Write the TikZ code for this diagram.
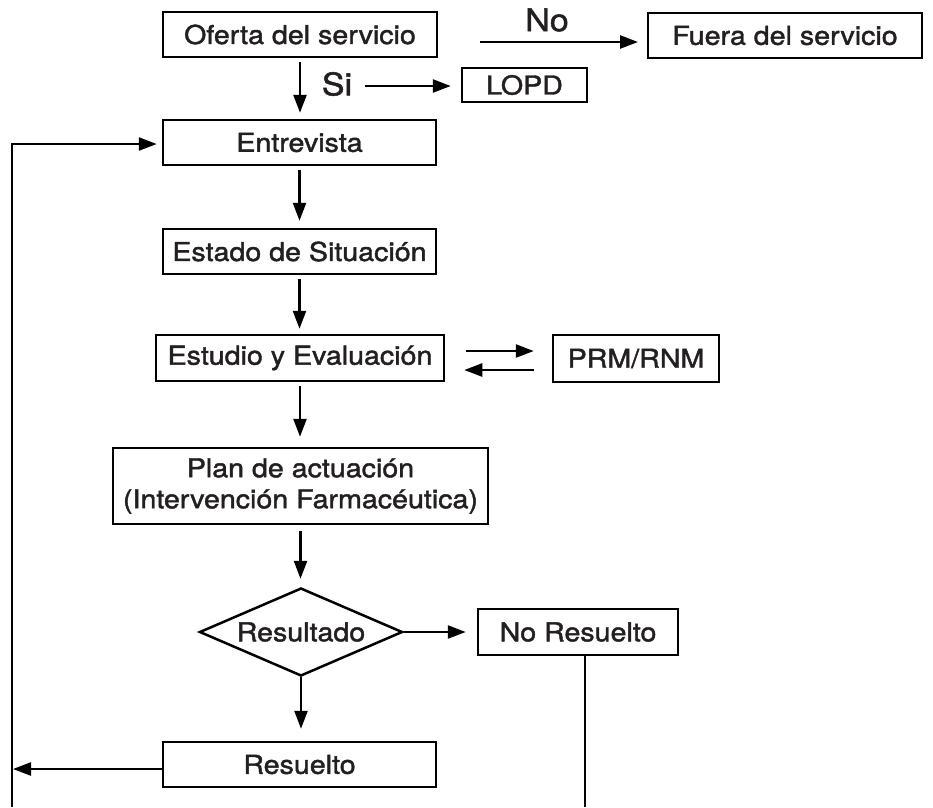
\documentclass[tikz,border=0pt]{standalone}
\usepackage{fontspec}
\setmainfont[FakeStretch=1.1,FakeBold=1.6]{TeX Gyre Heros}
\usetikzlibrary{arrows.meta,shapes.geometric}
\definecolor{ink}{HTML}{231F20}
\tikzset{
  lw/.style={line width=2.5pt, draw=black},
  box/.style={lw, rectangle, inner sep=0pt, text=ink, font=\fontsize{26}{31}\selectfont, align=center},
  dia/.style={lw, diamond, inner sep=0pt, text=ink, font=\fontsize{26}{31}\selectfont},
  lbl/.style={inner sep=0pt, text=ink, font=\fontsize{26}{31}\selectfont},
  biglbl/.style={inner sep=0pt, text=ink, font=\fontsize{31}{36}\selectfont},
  arr/.style={line width=2.5pt, -{Triangle[length=18pt,width=13pt]}},
  ln/.style={line width=2.5pt}
}
\begin{document}
\begin{tikzpicture}[x=1pt,y=-1pt]
\useasboundingbox (0,0) rectangle (933,807);
% boxes
\node[box, minimum width=274pt, minimum height=45pt] (oferta) at (300,34.5) {Oferta del servicio};
\node[box, minimum width=274pt, minimum height=45pt] (fuera) at (785,35.5) {Fuera del servicio};
\node[box, minimum width=125pt, minimum height=34pt] (lopd) at (524.5,85) {LOPD};
\node[box, minimum width=273pt, minimum height=45pt] (entrevista) at (299.5,142.5) {Entrevista};
\node[box, minimum width=273pt, minimum height=45pt] (estado) at (299.5,251.5) {Estado de Situación};
\node[box, minimum width=288pt, minimum height=46pt] (estudio) at (300,358) {Estudio y Evaluación};
\node[box, minimum width=166pt, minimum height=47pt] (prm) at (636,358.5) {PRM/RNM};
\node[box, minimum width=375pt, minimum height=76pt] (plan) at (300.5,486) {Plan de actuación\\(Intervención Farmacéutica)};
\node[dia, minimum width=203pt, minimum height=88pt, aspect=2.3] (res) at (301,632) {};
\node[lbl] (restxt) at (301,632) {Resultado};
\node[box, minimum width=200pt, minimum height=46pt] (nores) at (578,632) {No Resuelto};
\node[box, minimum width=273pt, minimum height=45pt] (resuelto) at (299.5,764.5) {Resuelto};
% labels
\node[biglbl] (no) at (547,20) {No};
\node[biglbl] (si) at (337,84) {Si};
% coordinates
\coordinate (noA) at (480,42);
\coordinate (noB) at (648,42);
\coordinate (siA) at (365,86);
\coordinate (loopBot) at (12,807);
\coordinate (loopTop) at (12,144);
\coordinate (noresBot) at (585,807);
\coordinate (leftHit) at (12,769);
% connectors
\draw[arr, shorten <=4pt, shorten >=6pt] (oferta.south) -- (oferta.south |- entrevista.north);
\draw[arr, shorten >=10pt] (noA) -- (noB);
\draw[arr, shorten >=10pt] (siA) -- (siA -| lopd.west);
\draw[arr, shorten <=4pt, shorten >=7pt] (entrevista.south) -- (estado.north);
\draw[arr, shorten <=4pt, shorten >=5pt] (estado.south) -- (estado.south |- estudio.north);
\draw[arr, shorten <=4pt, shorten >=10pt] (estudio.south) -- (estudio.south |- plan.north);
\draw[arr, shorten <=21pt, shorten >=18pt] ([yshift=7pt]estudio.east) -- ([yshift=7pt]estudio.east -| prm.west);
\draw[arr, shorten <=18pt, shorten >=19pt] ([yshift=-12pt]estudio.east -| prm.west) -- ([yshift=-12pt]estudio.east);
\draw[arr, shorten <=6pt, shorten >=8pt] (plan.south) -- (plan.south |- res.north);
\draw[arr, shorten >=11pt] (res.east) -- (nores.west);
\draw[arr, shorten >=12pt] (res.south) -- (res.south |- resuelto.north);
\draw[ln] (nores.south -| noresBot) -- (noresBot);
\draw[arr] (resuelto.west |- leftHit) -- ([xshift=1pt]leftHit);
\draw[arr, shorten >=5pt] (loopBot) -- (loopTop) -- (loopTop -| entrevista.west);
\end{tikzpicture}
\end{document}
